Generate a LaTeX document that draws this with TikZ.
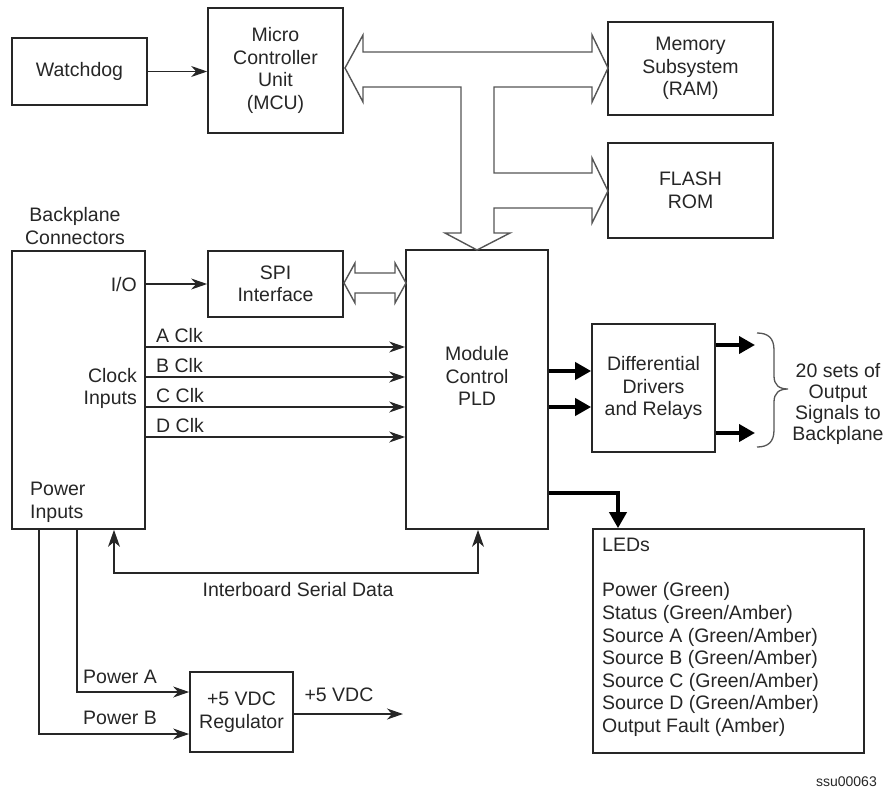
\documentclass[tikz,border=0pt]{standalone}
\usepackage{fontspec}
\setmainfont{Liberation Sans}
\usetikzlibrary{arrows.meta,calc}
\definecolor{ink}{HTML}{262626}
\definecolor{busc}{HTML}{555555}
\newcommand\mainfnt{\fontsize{19.5}{22.5}\selectfont}
\begin{document}
\begin{tikzpicture}[x=1pt,y=-1pt,
  box/.style={draw=ink,line width=1.7pt,inner sep=0pt,align=center,font=\mainfnt,text=ink},
  txt/.style={inner sep=0pt,align=center,font=\mainfnt,text=ink},
  conn/.style={draw=ink,line width=1.3pt,-{Stealth[length=16pt,width=11pt,inset=5pt]}},
  conn2/.style={draw=ink,line width=1.3pt,{Stealth[length=17pt,width=12pt,inset=5pt]}-{Stealth[length=17pt,width=12pt,inset=5pt]}},
  thickarr/.style={draw=black,line width=3.8pt,-{Triangle[length=16pt,width=17pt]}},
  buspoly/.style={draw=busc,line width=1.4pt,fill=white,line join=miter}]
\useasboundingbox (0,0) rectangle (888,790);

% boxes
\node[box,minimum width=135pt,minimum height=67pt] (wd) at (79.5,71.5) {Watchdog};
\node[box,minimum width=135pt,minimum height=125pt] (mcu) at (275.5,70.5) {Micro\\Controller\\Unit\\(MCU)};
\node[box,minimum width=165pt,minimum height=93pt] (mem) at (690.5,68.5) {Memory\\Subsystem\\(RAM)};
\node[box,minimum width=165pt,minimum height=95pt] (flash) at (690.5,190.5) {FLASH\\ROM};
\node[box,minimum width=133pt,minimum height=278pt] (bp) at (78.5,390) {};
\node[box,minimum width=135pt,minimum height=66pt] (spi) at (275.5,284) {SPI\\Interface};
\node[box,minimum width=142pt,minimum height=279pt] (pld) at (477,389.5) {};
\node[txt] (pldt) at (477,376) {Module\\Control\\PLD};
\node[box,minimum width=123pt,minimum height=128pt] (diff) at (653.5,388) {Differential\\Drivers\\and Relays};
\node[box,minimum width=271pt,minimum height=224pt] (led) at (728.5,641) {};
\node[box,minimum width=103pt,minimum height=80pt] (reg) at (241.5,712) {+5 VDC\\Regulator};

% labels
\node[txt] (bpl) at (75,226) {Backplane\\Connectors};
\node[txt,anchor=east] (io) at (137,285) {I/O};
\node[txt,anchor=east,align=right] (clk) at (137,388.5) {Clock\\Inputs};
\node[txt,anchor=west,align=left] (pwr) at (30,502.5) {Power\\Inputs};
\node[txt,anchor=west] (la) at (156,336) {A Clk};
\node[txt,anchor=west] (lb) at (156,366) {B Clk};
\node[txt,anchor=west] (lc) at (156,396) {C Clk};
\node[txt,anchor=west] (ld) at (156,426) {D Clk};
\node[txt,anchor=west] (lpa) at (83,677) {Power A};
\node[txt,anchor=west] (lpb) at (83,718) {Power B};
\node[txt] (vdc) at (339,695) {+5 VDC};
\node[txt] (isd) at (298,590) {Interboard Serial Data};
\node[txt,font=\fontsize{19.5}{21}\selectfont] (sets) at (838,404) {20 sets of\\Output\\Signals to\\Backplane};
\node[txt,anchor=west,align=left,font=\fontsize{19.5}{22.6}\selectfont] (ledt) at (602,637.5) {LEDs\\[22.6pt]Power (Green)\\Status (Green/Amber)\\Source A (Green/Amber)\\Source B (Green/Amber)\\Source C (Green/Amber)\\Source D (Green/Amber)\\Output Fault (Amber)};
\node[anchor=east,inner sep=0pt,font=\fontsize{14}{16}\selectfont,text=ink] (ssu) at (877,782) {ssu00063};

% bus arrows
\draw[buspoly] (345,68) -- (363,35) -- (363,52) -- (592,52) -- (592,35) -- (608,68) -- (592,102) -- (592,87) -- (494,87) -- (494,173) -- (592,173) -- (592,158) -- (608,191) -- (592,223) -- (592,208) -- (494,208) -- (494,233) -- (510,233) -- (477,250) -- (445,233) -- (461,233) -- (461,87) -- (363,87) -- (363,102) -- cycle;
\draw[buspoly] (344,283) -- (355,263) -- (355,273) -- (395,273) -- (395,263) -- (406,283) -- (395,303) -- (395,293) -- (355,293) -- (355,303) -- cycle;

% thin connectors
\draw[conn] (wd.east) -- (mcu.west |- wd.east);
\draw[conn] (bp.east |- spi.west) -- (spi.west);
\foreach \n/\y in {a/347,b/377,c/407,d/437} {
  \coordinate (c\n) at (0,\y);
  \draw[conn] (bp.east |- c\n) -- (pld.west |- c\n);
}
\coordinate (pa) at (77,692);
\coordinate (pb) at (39,734);
\draw[conn] (bp.south -| pa) -- (pa) -- (reg.west |- pa);
\draw[conn] (bp.south -| pb) -- (pb) -- (reg.west |- pb);
\coordinate (vout) at (403,714);
\draw[conn] (reg.east |- vout) -- (vout);
\coordinate (s1) at (114,573);
\coordinate (s2) at (478,573);
\draw[conn2] (bp.south -| s1) -- (s1) -- (s2) -- (pld.south -| s2);

% thick connectors
\coordinate (t1) at (0,371);
\coordinate (t2) at (0,407);
\draw[thickarr] (pld.east |- t1) -- (diff.west |- t1);
\draw[thickarr] (pld.east |- t2) -- (diff.west |- t2);
\coordinate (o1) at (755,345);
\coordinate (o2) at (755,433);
\draw[thickarr] (diff.east |- o1) -- (o1);
\draw[thickarr] (diff.east |- o2) -- (o2);
\coordinate (l1) at (618,493);
\draw[thickarr] (pld.east |- l1) -- (l1) -- (led.north -| l1);

% brace
\draw[busc,line width=1.3pt] (757,333) .. controls (768,333) and (774,338) .. (774,350) -- (774,376) .. controls (774,385) and (779,389) .. (788,389) .. controls (779,389) and (774,393) .. (774,402) -- (774,430) .. controls (774,442) and (768,447) .. (757,447);
\end{tikzpicture}
\end{document}
